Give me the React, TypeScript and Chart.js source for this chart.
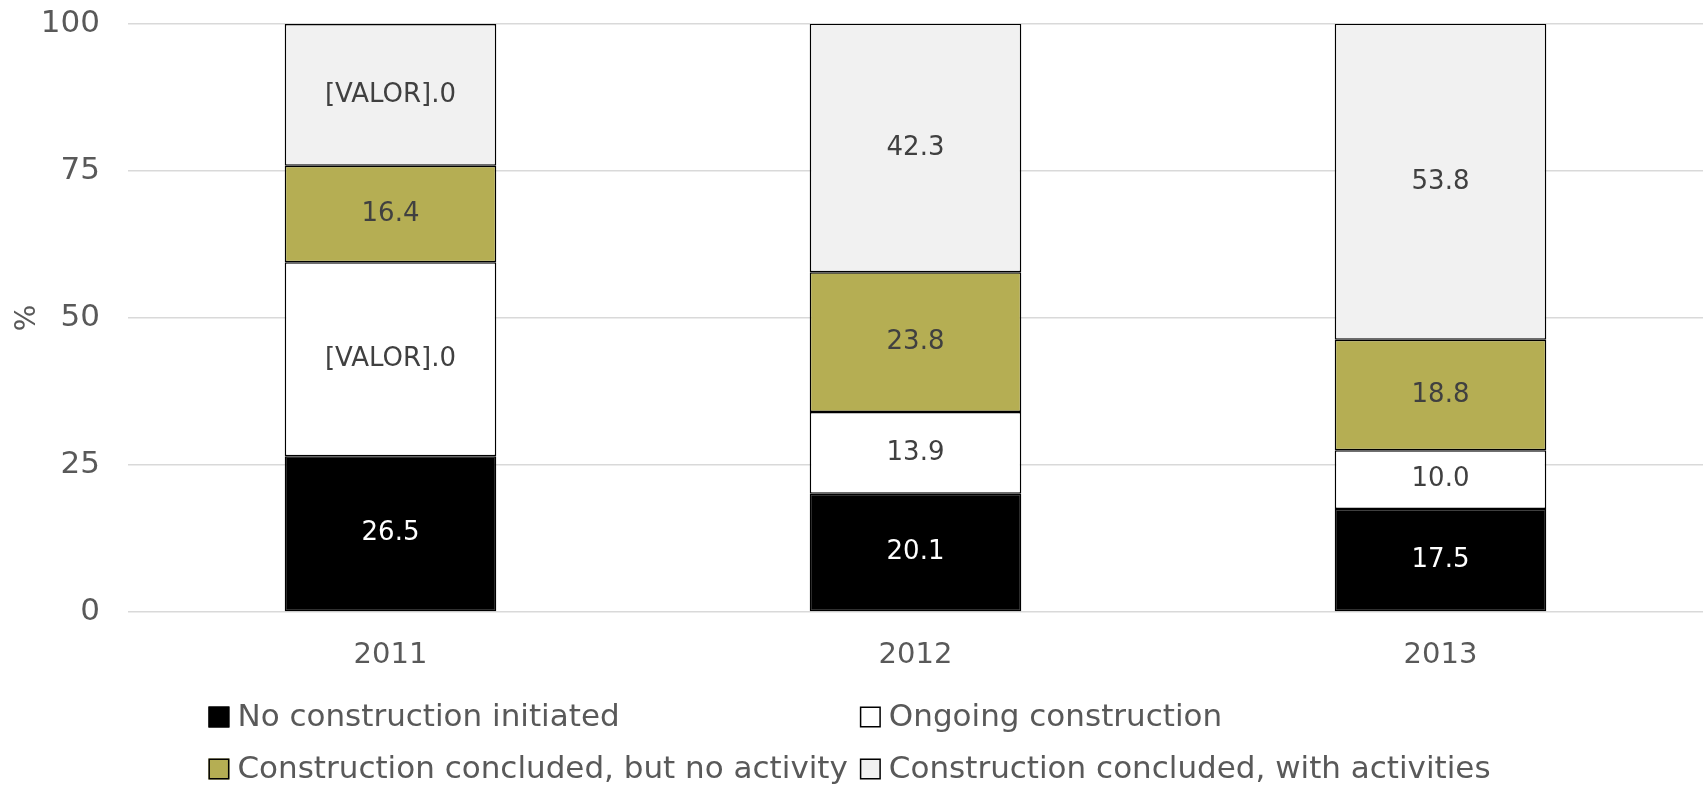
import { useEffect, useRef } from 'react';
import { Chart, registerables } from 'chart.js';

Chart.register(...registerables);

const years = ['2011', '2012', '2013'];
const seriesNames = [
  'No construction initiated',
  'Ongoing construction',
  'Construction concluded, but no activity',
  'Construction concluded, with activities',
];
const noConstruction = [26.5, 20.1, 17.5];
const ongoing = [33.0, 13.9, 10.0];
const concludedNoActivity = [16.4, 23.8, 18.8];
const concludedWithActivities = [24.1, 42.3, 53.8];

// Data labels as printed in the original (two are a broken Excel field)
const noConstructionLabels = ['26.5', '20.1', '17.5'];
const ongoingLabels = ['[VALOR].0', '13.9', '10.0'];
const concludedNoActivityLabels = ['16.4', '23.8', '18.8'];
const concludedWithActivitiesLabels = ['[VALOR].0', '42.3', '53.8'];

const yTicks = [0, 25, 50, 75, 100];
const yTitle = '%';

const FONT = "'DejaVu Sans', sans-serif";
const colors = ['#000000', '#ffffff', '#b5ae53', '#f1f1f1'];
const labelColors = ['#ffffff', '#404040', '#404040', '#404040'];
const allLabels = [noConstructionLabels, ongoingLabels, concludedNoActivityLabels, concludedWithActivitiesLabels];

const dataLabelPlugin = {
  id: 'dataLabels',
  afterDatasetsDraw(chart: any) {
    const ctx = chart.ctx;
    ctx.save();
    ctx.font = `26px ${FONT}`;
    ctx.textAlign = 'center';
    ctx.textBaseline = 'middle';
    chart.data.datasets.forEach((ds: any, di: number) => {
      const meta = chart.getDatasetMeta(di);
      meta.data.forEach((el: any, i: number) => {
        const top = Math.max(el.y, chart.chartArea.top);
        const y = (top + el.base) / 2;
        ctx.fillStyle = labelColors[di];
        ctx.fillText(allLabels[di][i], el.x, y);
      });
    });
    ctx.restore();
  },
};

const legendPlugin = {
  id: 'gridLegend',
  afterDraw(chart: any) {
    const ctx = chart.ctx;
    const names: string[] = chart.data.datasets.map((d: any) => d.label);
    ctx.save();
    ctx.font = `31px ${FONT}`;
    ctx.textBaseline = 'middle';
    ctx.textAlign = 'left';
    const box = 21;
    const gap = 8;
    const colGap = 12;
    const col1 = [names[0], names[2]];
    const col2 = [names[1], names[3]];
    const w1 = Math.max(...col1.map((t) => ctx.measureText(t).width));
    const w2 = Math.max(...col2.map((t) => ctx.measureText(t).width));
    const total = box + gap + w1 + colGap + box + gap + w2;
    const x1 = (chart.width - total) / 2 - 4;
    const x2 = x1 + box + gap + w1 + colGap;
    const rows = [717, 769];
    const order = [
      [0, x1, rows[0]],
      [1, x2, rows[0]],
      [2, x1, rows[1]],
      [3, x2, rows[1]],
    ];
    order.forEach(([i, x, y]) => {
      const ds = chart.data.datasets[i as number];
      ctx.fillStyle = ds.backgroundColor;
      ctx.fillRect((x as number), (y as number) - box / 2, box, box);
      ctx.lineWidth = 1.5;
      ctx.strokeStyle = '#000000';
      ctx.strokeRect((x as number) + 0.75, (y as number) - box / 2 + 0.75, box - 1.5, box - 1.5);
      ctx.fillStyle = '#595959';
      ctx.fillText(names[i as number], (x as number) + box + gap, (y as number) + 1);
    });
    ctx.restore();
  },
};

export default function App() {
  const ref = useRef<HTMLCanvasElement>(null);
  useEffect(() => {
    if (!ref.current) return;
    const series = [noConstruction, ongoing, concludedNoActivity, concludedWithActivities];
    const chart = new Chart(ref.current, {
      type: 'bar',
      data: {
        labels: years,
        datasets: series.map((data, i) => ({
          label: seriesNames[i],
          data,
          backgroundColor: colors[i],
          borderColor: '#000000',
          borderWidth: 1.5,
          borderSkipped: false,
          categoryPercentage: 1,
          barPercentage: 0.403,
        })),
      },
      options: {
        animation: false,
        responsive: true,
        maintainAspectRatio: false,
        layout: { padding: { top: 24, right: 4, left: 0, bottom: 0 } },
        plugins: {
          legend: { display: false },
          tooltip: { enabled: false },
        },
        scales: {
          x: {
            stacked: true,
            grid: { display: false, drawTicks: false },
            border: { display: false },
            ticks: { color: '#595959', font: { family: FONT, size: 29 }, padding: 26 },
            afterFit: (scale: any) => {
              scale.height = 177;
            },
          },
          y: {
            stacked: true,
            min: 0,
            max: 100,
            afterBuildTicks: (scale: any) => {
              scale.ticks = yTicks.map((v) => ({ value: v }));
            },
            grid: { color: '#d9d9d9', lineWidth: 1.5, drawTicks: false },
            border: { display: false },
            ticks: { color: '#595959', font: { family: FONT, size: 31 }, padding: 28 },
            title: {
              display: true,
              text: yTitle,
              color: '#595959',
              font: { family: FONT, size: 28 },
              padding: { top: 11, bottom: 0 },
            },
            afterFit: (scale: any) => {
              scale.width = 128;
              scale.paddingTop = 0;
              scale.paddingBottom = 0;
            },
          },
        },
      },
      plugins: [dataLabelPlugin, legendPlugin],
    });
    return () => chart.destroy();
  }, []);
  return (
    <div style={{ position: 'fixed', left: 0, top: 0, width: 1707, height: 789 }}>
      <canvas ref={ref} />
    </div>
  );
}
